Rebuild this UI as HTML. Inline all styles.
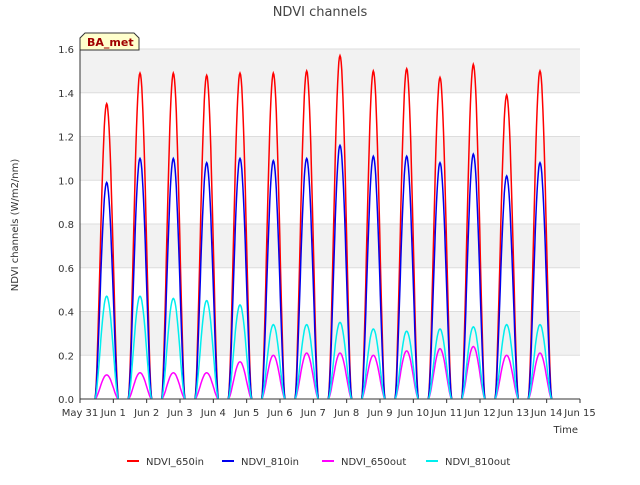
<!DOCTYPE html>
<html><head><meta charset="utf-8"><style>
body{margin:0;background:#fff;font-family:"Liberation Sans","DejaVu Sans",sans-serif;}
text{font-family:"DejaVu Sans","Liberation Sans",sans-serif;}
</style></head><body>
<svg id="chart" width="640" height="480" xmlns="http://www.w3.org/2000/svg">
<rect x="0" y="0" width="640" height="480" fill="#fff"/>
<g id="bands"></g>
<g id="grid"></g>
<g id="series"></g>
<g id="axes"></g>
<text x="320" y="16" font-size="13" fill="#444" text-anchor="middle">NDVI channels</text>
<text transform="translate(18,225) rotate(-90)" font-size="10" fill="#333" text-anchor="middle">NDVI channels (W/m2/nm)</text>
<text x="578" y="433" font-size="10" fill="#333" text-anchor="end">Time</text>
<g>
<path d="M80,50 L80,38 L85,33 L134,33 L139,38 L139,50 Z" fill="#ffffcc" stroke="#333" stroke-width="1"/>
<text x="87" y="46" font-size="11" font-weight="bold" fill="#a00000">BA_met</text>
</g>
<g id="legend"></g>
</svg>
<script>
const days = ["May 31","Jun 1","Jun 2","Jun 3","Jun 4","Jun 5","Jun 6","Jun 7","Jun 8","Jun 9","Jun 10","Jun 11","Jun 12","Jun 13","Jun 14","Jun 15"];
const yTicks = [0.0,0.2,0.4,0.6,0.8,1.0,1.2,1.4,1.6];
const seriesNames = ["NDVI_650in","NDVI_810in","NDVI_650out","NDVI_810out"];
const seriesColors = ["#ff0000","#0000ee","#ff00ff","#00eeee"];
const peak650in = [1.35,1.49,1.49,1.48,1.49,1.49,1.50,1.57,1.50,1.51,1.47,1.53,1.39,1.50];
const peak810in = [0.99,1.10,1.10,1.08,1.10,1.09,1.10,1.16,1.11,1.11,1.08,1.12,1.02,1.08];
const peak650out = [0.11,0.12,0.12,0.12,0.17,0.20,0.21,0.21,0.20,0.22,0.23,0.24,0.20,0.21];
const peak810out = [0.47,0.47,0.46,0.45,0.43,0.34,0.34,0.35,0.32,0.31,0.32,0.33,0.34,0.34];
const allPeaks = [peak650in,peak810in,peak650out,peak810out];

const X0=80,X1=580,Y0=399,Y1=49;
const xs = d => X0 + d/15*(X1-X0);
const ys = v => Y0 - v/1.6*(Y0-Y1);
const NS="http://www.w3.org/2000/svg";
function mk(tag, attrs, parent){const e=document.createElementNS(NS,tag);for(const k in attrs)e.setAttribute(k,attrs[k]);parent.appendChild(e);return e;}
const bands=document.getElementById('bands'),grid=document.getElementById('grid'),axes=document.getElementById('axes'),ser=document.getElementById('series'),leg=document.getElementById('legend');
mk('rect',{x:X0,y:Y1,width:X1-X0,height:Y0-Y1,fill:'#ffffff'},bands);
for(let i=0;i<yTicks.length-1;i+=1){
  if(i%2===1){const r=mk('rect',{x:X0,y:ys(yTicks[i+1]),width:X1-X0,height:ys(yTicks[i])-ys(yTicks[i+1]),fill:'#f2f2f2'},bands);
  
  }
}
yTicks.forEach(v=>{
  const l=mk('line',{x1:X0,x2:X1,y1:ys(v),y2:ys(v),stroke:'#dddddd','stroke-width':1},grid);
  
  
  const t=mk('text',{x:X0-6,y:ys(v)+4,'font-size':10,fill:'#333','text-anchor':'end'},axes);
  t.textContent=v.toFixed(1);
  
  
});
days.forEach((d,i)=>{
  const t=mk('text',{x:xs(i),y:Y0+17,'font-size':10,fill:'#333','text-anchor':'middle'},axes);
  t.textContent=d;
  
  
  mk('line',{x1:xs(i),x2:xs(i),y1:Y0,y2:Y0+4,stroke:'#333'},axes);
});
mk('line',{x1:X0,x2:X0,y1:Y1,y2:Y0,stroke:'#333'},axes);
mk('line',{x1:X0,x2:X1,y1:Y0,y2:Y0,stroke:'#333'},axes);

allPeaks.forEach((pk,s)=>{
  let d='';
  pk.forEach((p,i)=>{
    const start=i+0.45,end=i+1.15,N=40;
    for(let k=0;k<=N;k++){
      const f=k/N, t=start+f*(end-start);
      const v=p*Math.pow(Math.sin(Math.PI*f),1.6);
      d+=(k===0?'M':'L')+xs(t).toFixed(1)+','+ys(v).toFixed(1);
    }
  });
  const path=mk('path',{d:d,fill:'none',stroke:seriesColors[s],'stroke-width':1.5},ser);
  
  
});
const lx=[127,222,322,426];
seriesNames.forEach((n,i)=>{
  const g=mk('g',{},leg);
  
  
  mk('line',{x1:lx[i],x2:lx[i]+12,y1:461,y2:461,stroke:seriesColors[i],'stroke-width':2},g);
  const t=mk('text',{x:lx[i]+19,y:465,'font-size':10,fill:'#333'},g);
  t.textContent=n;
});
</script>
</body></html>
